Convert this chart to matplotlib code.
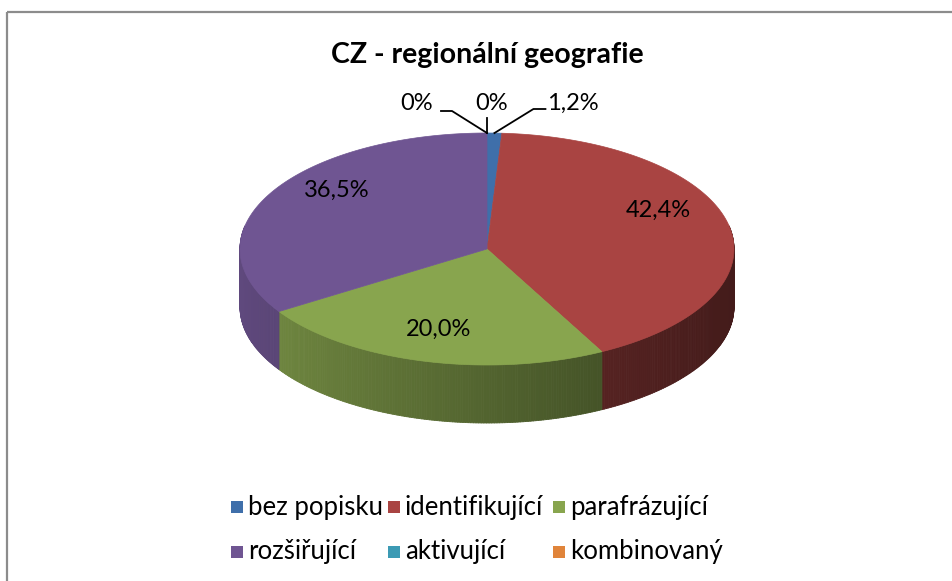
import matplotlib
matplotlib.use("Agg")
import matplotlib.pyplot as plt
from matplotlib.patches import Polygon, Rectangle
from matplotlib.collections import PolyCollection
import numpy as np

plt.rcParams['font.family'] = ['Lato', 'DejaVu Sans']

title = "CZ - regionální geografie"
categories = ["bez popisku", "identifikující", "parafrázující",
              "rozšiřující", "aktivující", "kombinovaný"]
values = [1.2, 42.4, 20.0, 36.5, 0.0, 0.0]
colors = ["#3F6FAA", "#A94442", "#88A54E", "#6F5592", "#3C9AB4", "#E0843A"]


def fmt(v):
    if v == 0:
        return "0%"
    return ("%.1f%%" % v).replace(".", ",")


fig = plt.figure(figsize=(9.53, 5.81), dpi=100)
ax = fig.add_axes([0, 0, 1, 1])
ax.set_xlim(0, 953)
ax.set_ylim(581, 0)
ax.axis('off')

# chart frame (only top and left edges visible)
ax.plot([7, 953], [12, 12], color="#8c8c8c", lw=1.6, solid_capstyle='butt')
ax.plot([7, 7], [12, 581], color="#8c8c8c", lw=1.6, solid_capstyle='butt')

ax.text(487, 55, title, ha='center', va='center', fontsize=20.5, fontweight='bold')

# pseudo 3D pie in pixel space
cx, cy, rx, ry, depth = 487, 249, 247, 116, 58
frac = np.array(values) / np.sum(values)
bounds = np.concatenate([[0], np.cumsum(frac)]) * 360


def warp(a):
    # perspective: back of the pie squeezed, front stretched
    return a - 11.5 * np.sin(np.radians(a))


def pt(a, dy=0.0):
    t = np.radians(warp(a))
    return cx + rx * np.sin(t), cy - ry * np.cos(t) + dy


def shade(c, f):
    r, g, b = matplotlib.colors.to_rgb(c)
    return (r * f, g * f, b * f)


# side walls (front half only), shaded darker to the right
quads, qcols = [], []
for i in range(len(values)):
    lo, hi = max(bounds[i], 90), min(bounds[i + 1], 270)
    if hi <= lo:
        continue
    angs = np.linspace(lo, hi, max(2, int((hi - lo) * 2)))
    for a0, a1 in zip(angs[:-1], angs[1:]):
        x0, y0 = pt(a0)
        x1, y1 = pt(a1)
        quads.append([(x0, y0), (x1, y1), (x1, y1 + depth), (x0, y0 + depth)])
        t = ((x0 + x1) / 2 - (cx - rx)) / (2 * rx)
        f = 0.86 - 0.46 * t ** 0.85
        qcols.append(shade(colors[i], f))
ax.add_collection(PolyCollection(quads, facecolors=qcols, edgecolors=qcols, linewidths=0.6))

# top faces
for i in range(len(values)):
    if frac[i] == 0:
        continue
    angs = np.linspace(bounds[i], bounds[i + 1], max(2, int(frac[i] * 720)))
    xs, ys = pt(angs)
    verts = [(cx, cy)] + list(zip(xs, ys))
    ax.add_patch(Polygon(verts, closed=True, facecolor=colors[i],
                         edgecolor=colors[i], lw=0.5))

# data labels inside big slices
for i in range(len(values)):
    if frac[i] < 0.05:
        continue
    t = np.radians(warp((bounds[i] + bounds[i + 1]) / 2))
    lx = cx + 0.74 * rx * np.sin(t)
    ly = cy - 7 - 0.78 * ry * np.cos(t)
    ax.text(lx, ly, fmt(values[i]), ha='center', va='center', fontsize=17)

# small / zero slices labelled outside with leader lines
ly_out = 103
outside = [(0, 1), (4, 0), (5, -1)]   # slice index, side
for i, side in outside:
    mid = (bounds[i] + bounds[i + 1]) / 2
    ax_, ay_ = pt(mid)
    if frac[i] == 0:
        ax_ = cx
    if side == 1:
        ex = ax_ + 39
        ax.plot([ax_, ex, ex + 12], [ay_, ly_out + 6, ly_out + 6], color='black', lw=1.3)
        ax.text(ex + 14, ly_out, fmt(values[i]), ha='left', va='center', fontsize=17)
    elif side == -1:
        ex = ax_ - 35
        ax.plot([ax_, ex, ex - 11], [ay_, ly_out + 8, ly_out + 8], color='black', lw=1.3)
        ax.text(ex - 19, ly_out, fmt(values[i]), ha='right', va='center', fontsize=17)
    else:
        ax.plot([ax_, ax_], [ay_, ly_out + 15], color='black', lw=1.3)
        ax.text(ax_ + 5, ly_out, fmt(values[i]), ha='center', va='center', fontsize=17)

# legend
col_x = [231, 388, 553]
row_y = [507, 552]
for i, (name, c) in enumerate(zip(categories, colors)):
    x = col_x[i % 3]
    y = row_y[i // 3]
    ax.add_patch(Rectangle((x, y - 6), 12, 12, facecolor=c, edgecolor='none'))
    ax.text(x + 17, y, name, ha='left', va='center', fontsize=18.5)

fig.savefig("out.png", dpi=100)
